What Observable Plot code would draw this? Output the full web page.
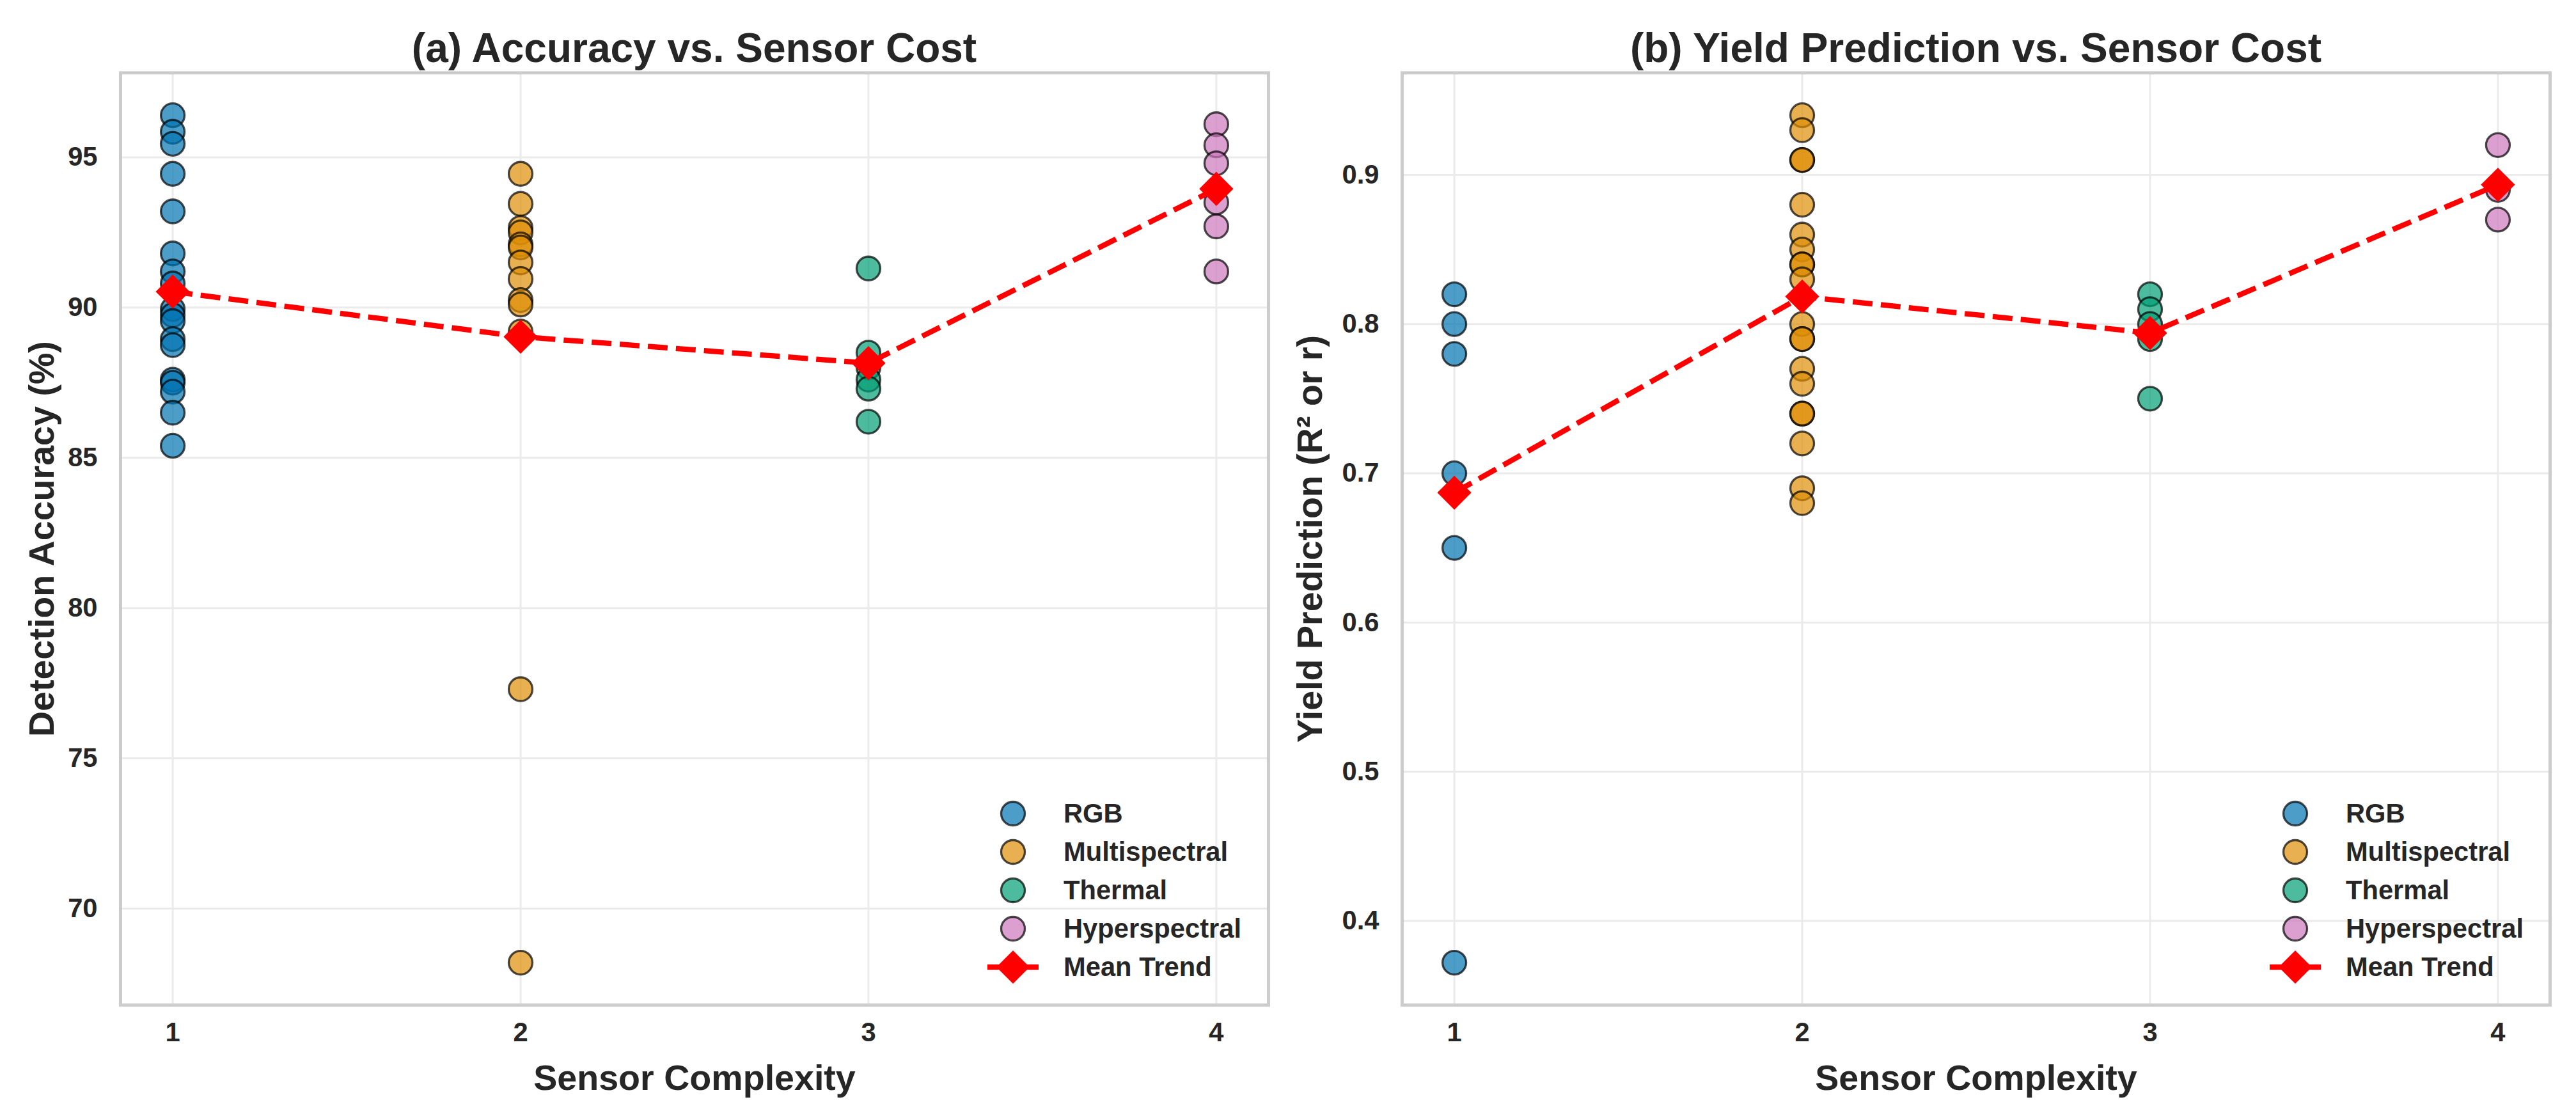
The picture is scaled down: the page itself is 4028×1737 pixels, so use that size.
<!DOCTYPE html>
<html>
<head>
<meta charset="utf-8">
<script src="https://cdn.jsdelivr.net/npm/d3@7"></script>
<script src="https://cdn.jsdelivr.net/npm/@observablehq/plot@0.6"></script>
<style>
  html, body { margin: 0; padding: 0; background: #fff; }
  #wrap { display: flex; width: 4028px; height: 1737px; background: #fff;
          font-family: "Liberation Sans", Arial, Helvetica, sans-serif; color: #262626; }
  .panel { position: relative; width: 2014px; height: 1737px; }
  .title { box-sizing: border-box; height: 100px; padding-top: 43px; text-align: center;
           font-size: 64px; line-height: 64px; font-weight: bold; white-space: nowrap; }
  .legend { position: absolute; font-size: 41.7px; font-weight: bold; }
  .legend .row { display: flex; align-items: center; height: 60px; }
  .legend svg { display: block; width: 80px; height: 60px; margin-right: 39px; }
</style>
</head>
<body>
<div id="wrap"></div>
<script>
// ---------- data ----------
const sensors = ["RGB", "Multispectral", "Thermal", "Hyperspectral"];
const complexity = [1, 2, 3, 4];
const sensorColors = ["#0173B2", "#DE8F05", "#029E73", "#CC78BC"];
const xTicks = [1, 2, 3, 4];

// (a) detection accuracy (%)
const accRGB = [96.4, 95.85, 95.45, 94.45, 93.2, 91.8, 91.2, 90.8, 89.95, 89.75, 89.55, 88.95, 88.75, 87.6, 87.5, 87.2, 86.5, 85.4];
const accMulti = [94.45, 93.45, 92.65, 92.5, 92.1, 92.0, 91.5, 90.95, 90.25, 90.1, 89.2, 77.3, 68.2];
const accThermal = [91.3, 88.5, 88.0, 87.6, 87.3, 86.2];
const accHyper = [96.1, 95.4, 94.8, 93.5, 92.7, 91.2];
const accMean = [90.53, 89.03, 88.15, 93.95];
const accTicks = [70, 75, 80, 85, 90, 95];
const accTickLabels = ["70", "75", "80", "85", "90", "95"];

// (b) yield prediction (R² or r)
const yieldRGB = [0.82, 0.80, 0.78, 0.70, 0.65, 0.372];
const yieldMulti = [0.94, 0.93, 0.91, 0.91, 0.88, 0.86, 0.85, 0.84, 0.84, 0.83, 0.80, 0.79, 0.79, 0.77, 0.76, 0.74, 0.74, 0.72, 0.69, 0.68];
const yieldThermal = [0.82, 0.81, 0.80, 0.79, 0.75];
const yieldHyper = [0.92, 0.89, 0.87];
const yieldMean = [0.687, 0.8185, 0.794, 0.8934];
const yieldTicks = [0.4, 0.5, 0.6, 0.7, 0.8, 0.9];
const yieldTickLabels = ["0.4", "0.5", "0.6", "0.7", "0.8", "0.9"];

// ---------- helpers ----------
function rows(seriesList) {
  const out = [];
  seriesList.forEach((vals, i) => vals.forEach(v => out.push({sensor: sensors[i], x: complexity[i], y: v})));
  return out;
}
function meanRows(means) { return means.map((v, i) => ({x: complexity[i], y: v})); }

const FONT = '"Liberation Sans", Arial, Helvetica, sans-serif';

function makePanel({title, data, means, yDomain, yTicks, yTickLabels, yLabel, marginLeft, marginRight, yLabelOffset, legendLeft}) {
  const panel = document.createElement("div");
  panel.className = "panel";
  const t = document.createElement("div");
  t.className = "title";
  t.style.paddingLeft = marginLeft + "px";
  t.style.paddingRight = marginRight + "px";
  t.textContent = title;
  panel.appendChild(t);

  const chart = Plot.plot({
    width: 2014,
    height: 1637,
    marginTop: 13.4,
    marginBottom: 166.2,
    marginLeft,
    marginRight,
    style: {fontFamily: FONT, fontWeight: "bold", color: "#262626", background: "white", overflow: "visible"},
    x: {domain: [0.85, 4.15]},
    y: {domain: yDomain},
    color: {domain: sensors, range: sensorColors},
    marks: [
      Plot.gridX(xTicks, {stroke: "#ebebeb", strokeOpacity: 1, strokeWidth: 3}),
      Plot.gridY(yTicks, {stroke: "#ebebeb", strokeOpacity: 1, strokeWidth: 3}),
      Plot.frame({stroke: "#cccccc", strokeWidth: 5}),
      Plot.axisX(xTicks, {tickSize: 0, tickPadding: 27, fontSize: 41.7, label: null, tickFormat: d => String(d)}),
      Plot.axisY(yTicks, {tickSize: 0, tickPadding: 36, fontSize: 41.7, label: null,
                          tickFormat: d => yTickLabels[yTicks.indexOf(d)]}),
      Plot.axisX([], {label: "Sensor Complexity", labelAnchor: "center", labelArrow: "none", labelOffset: 133, fontSize: 55.6}),
      Plot.axisY([], {label: yLabel, labelAnchor: "center", labelArrow: "none", labelOffset: yLabelOffset, fontSize: 55.6}),
      Plot.dot(data, {x: "x", y: "y", fill: "sensor", fillOpacity: 0.7, stroke: "black", strokeOpacity: 0.7, strokeWidth: 3.3, r: 18.5}),
      Plot.line(means, {x: "x", y: "y", stroke: "red", strokeWidth: 8.3, strokeDasharray: "31,13", strokeLinecap: "butt"}),
      Plot.dot(means, {x: "x", y: "y", symbol: "diamond2", fill: "red", stroke: "none", r: 24})
    ]
  });
  panel.appendChild(chart);

  // legend (HTML overlay, bottom-right inside frame)
  const lg = document.createElement("div");
  lg.className = "legend";
  lg.style.left = legendLeft + "px";
  lg.style.top = "1242px";
  const items = sensors.map((s, i) => ({label: s, color: sensorColors[i], kind: "dot"}))
    .concat([{label: "Mean Trend", color: "red", kind: "trend"}]);
  for (const it of items) {
    const row = document.createElement("div");
    row.className = "row";
    const svgNS = "http://www.w3.org/2000/svg";
    const sw = document.createElementNS(svgNS, "svg");
    sw.setAttribute("viewBox", "0 0 80 60");
    if (it.kind === "dot") {
      const c = document.createElementNS(svgNS, "circle");
      c.setAttribute("cx", 40); c.setAttribute("cy", 30); c.setAttribute("r", 18.5);
      c.setAttribute("fill", it.color); c.setAttribute("fill-opacity", 0.7);
      c.setAttribute("stroke", "black"); c.setAttribute("stroke-opacity", 0.7); c.setAttribute("stroke-width", 3.3);
      sw.appendChild(c);
    } else {
      const l = document.createElementNS(svgNS, "line");
      l.setAttribute("x1", 0); l.setAttribute("x2", 80); l.setAttribute("y1", 30); l.setAttribute("y2", 30);
      l.setAttribute("stroke", "red"); l.setAttribute("stroke-width", 8.3);
      sw.appendChild(l);
      const p = document.createElementNS(svgNS, "polygon");
      p.setAttribute("points", "40,4 66,30 40,56 14,30");
      p.setAttribute("fill", "red");
      sw.appendChild(p);
    }
    row.appendChild(sw);
    const span = document.createElement("span");
    span.textContent = it.label;
    row.appendChild(span);
    lg.appendChild(row);
  }
  panel.appendChild(lg);
  return panel;
}

const wrap = document.getElementById("wrap");
wrap.appendChild(makePanel({
  title: "(a) Accuracy vs. Sensor Cost",
  data: rows([accRGB, accMulti, accThermal, accHyper]),
  means: meanRows(accMean),
  yDomain: [66.79, 97.81],
  yTicks: accTicks,
  yTickLabels: accTickLabels,
  yLabel: "Detection Accuracy (%)",
  marginLeft: 188,
  marginRight: 31,
  yLabelOffset: 144,
  legendLeft: 1544
}));
wrap.appendChild(makePanel({
  title: "(b) Yield Prediction vs. Sensor Cost",
  data: rows([yieldRGB, yieldMulti, yieldThermal, yieldHyper]),
  means: meanRows(yieldMean),
  yDomain: [0.3436, 0.9684],
  yTicks: yieldTicks,
  yTickLabels: yieldTickLabels,
  yLabel: "Yield Prediction (R² or r)",
  marginLeft: 178,
  marginRight: 41,
  yLabelOffset: 165,
  legendLeft: 1535
}));
</script>
</body>
</html>
